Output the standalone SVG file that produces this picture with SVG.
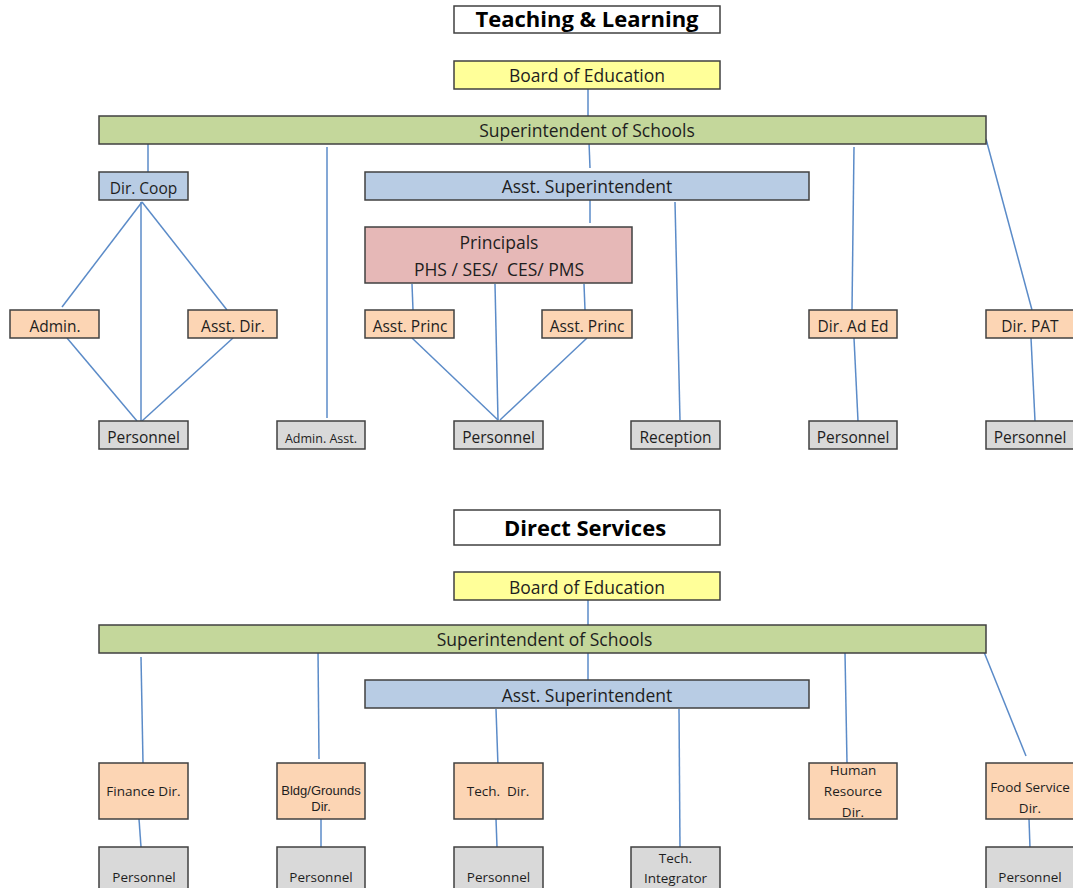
<svg xmlns="http://www.w3.org/2000/svg" width="1073" height="888" viewBox="0 0 1073 888">
<style>
text{font-family:"Open Sans","Noto Sans","Liberation Sans",sans-serif;fill:#1e1e1e;text-anchor:middle}
.b{stroke:#404040;stroke-width:1.5}
.t{fill:#fff}.y{fill:#ffff99}.g{fill:#c4d79b}.bl{fill:#b8cce4}.p{fill:#e6b8b7}.o{fill:#fcd5b4}.gr{fill:#d9d9d9}
.h{font-weight:bold;font-size:22px;fill:#000}
.l{font-size:17.5px}
.m{font-size:15.5px}
.s{font-size:13.5px}
.a{font-family:"Liberation Sans",Arial,sans-serif;font-size:13px}
.c line{stroke:#5b8bc8;stroke-width:1.5}
</style>
<rect width="1073" height="888" fill="#fff"/>
<g class="c" id="connectors">
<line x1="588" y1="89" x2="588" y2="116"/>
<line x1="148" y1="144" x2="148" y2="172"/>
<line x1="327" y1="147" x2="327" y2="418"/>
<line x1="589" y1="142" x2="590" y2="168"/>
<line x1="590" y1="200" x2="590" y2="223"/>
<line x1="854" y1="147" x2="852" y2="310"/>
<line x1="986" y1="139" x2="1032" y2="310"/>
<line x1="675" y1="202" x2="680" y2="420"/>
<line x1="142" y1="202" x2="62" y2="307"/>
<line x1="142" y1="202" x2="227" y2="310"/>
<line x1="141" y1="202" x2="141" y2="421"/>
<line x1="67" y1="338" x2="137" y2="421"/>
<line x1="233" y1="338" x2="142" y2="421"/>
<line x1="412" y1="284" x2="413" y2="310"/>
<line x1="584" y1="284" x2="585" y2="310"/>
<line x1="495" y1="284" x2="498" y2="420"/>
<line x1="412" y1="338" x2="498" y2="420"/>
<line x1="587" y1="338" x2="500" y2="420"/>
<line x1="854" y1="338" x2="858" y2="421"/>
<line x1="1031" y1="338" x2="1035" y2="421"/>
<line x1="588" y1="600" x2="588" y2="625"/>
<line x1="588" y1="653" x2="588" y2="680"/>
<line x1="141" y1="657" x2="143" y2="763"/>
<line x1="318" y1="650" x2="319" y2="759"/>
<line x1="496" y1="709" x2="498" y2="766"/>
<line x1="679" y1="709" x2="680" y2="849"/>
<line x1="845" y1="653" x2="847" y2="763"/>
<line x1="984" y1="652" x2="1026" y2="756"/>
<line x1="139" y1="819" x2="141" y2="847"/>
<line x1="321" y1="819" x2="321" y2="849"/>
<line x1="496" y1="819" x2="497" y2="847"/>
<line x1="1029" y1="819" x2="1030" y2="848"/>
</g>
<g id="title-tl"><rect class="b t" x="454" y="6" width="266" height="27"/><text class="h" x="587" y="27">Teaching &amp; Learning</text></g>
<g id="board-tl"><rect class="b y" x="454" y="61" width="266" height="28"/><text class="l" x="587" y="82">Board of Education</text></g>
<g id="sup-tl"><rect class="b g" x="99" y="116" width="887" height="28"/><text class="l" x="587" y="137">Superintendent of Schools</text></g>
<g id="dircoop"><rect class="b bl" x="99" y="172" width="89" height="28"/><text class="m" x="143.5" y="194">Dir. Coop</text></g>
<g id="asstsup-tl"><rect class="b bl" x="365" y="172" width="444" height="28"/><text class="l" x="587" y="193">Asst. Superintendent</text></g>
<g id="principals"><rect class="b p" x="365" y="227" width="267" height="56"/><text class="l" x="499" y="249">Principals</text><text class="l" x="499" y="276" style="white-space:pre">PHS / SES/  CES/ PMS</text></g>
<g id="admin"><rect class="b o" x="10" y="310" width="89" height="28"/><text class="m" x="55" y="332">Admin.</text></g>
<g id="asstdir"><rect class="b o" x="188" y="310" width="89" height="28"/><text class="m" x="233" y="332">Asst. Dir.</text></g>
<g id="asstprinc1"><rect class="b o" x="365" y="310" width="89" height="28"/><text class="m" x="410" y="332">Asst. Princ</text></g>
<g id="asstprinc2"><rect class="b o" x="542" y="310" width="90" height="28"/><text class="m" x="587" y="332">Asst. Princ</text></g>
<g id="diraded"><rect class="b o" x="809" y="310" width="88" height="28"/><text class="m" x="853" y="332">Dir. Ad Ed</text></g>
<g id="dirpat"><rect class="b o" x="986" y="310" width="89" height="28"/><text class="m" x="1030" y="332">Dir. PAT</text></g>
<g id="pers-coop"><rect class="b gr" x="99" y="421" width="89" height="28"/><text class="m" x="143.5" y="443">Personnel</text></g>
<g id="adminasst"><rect class="b gr" x="277" y="421" width="88" height="28"/><text class="s" x="321" y="443" style="font-size:12.5px">Admin. Asst.</text></g>
<g id="pers-princ"><rect class="b gr" x="454" y="421" width="89" height="28"/><text class="m" x="498.5" y="443">Personnel</text></g>
<g id="reception"><rect class="b gr" x="631" y="421" width="89" height="28"/><text class="m" x="675.5" y="443">Reception</text></g>
<g id="pers-aded"><rect class="b gr" x="809" y="421" width="88" height="28"/><text class="m" x="853" y="443">Personnel</text></g>
<g id="pers-pat"><rect class="b gr" x="986" y="421" width="89" height="28"/><text class="m" x="1030" y="443">Personnel</text></g>
<g id="title-ds"><rect class="b t" x="454" y="510" width="266" height="35"/><text class="h" x="585" y="536">Direct Services</text></g>
<g id="board-ds"><rect class="b y" x="454" y="572" width="266" height="28"/><text class="l" x="587" y="594">Board of Education</text></g>
<g id="sup-ds"><rect class="b g" x="99" y="625" width="887" height="28"/><text class="l" x="544.5" y="646">Superintendent of Schools</text></g>
<g id="asstsup-ds"><rect class="b bl" x="365" y="680" width="444" height="28"/><text class="l" x="587" y="702">Asst. Superintendent</text></g>
<g id="finance"><rect class="b o" x="99" y="763" width="89" height="56"/><text class="s" x="143.5" y="796">Finance Dir.</text></g>
<g id="bldg"><rect class="b o" x="277" y="763" width="88" height="56"/><text class="a" x="321" y="795">Bldg/Grounds</text><text class="a" x="321" y="811">Dir.</text></g>
<g id="techdir"><rect class="b o" x="454" y="763" width="89" height="56"/><text class="s" x="498" y="796" style="white-space:pre">Tech.  Dir.</text></g>
<g id="hr"><rect class="b o" x="809" y="763" width="88" height="56"/><text class="s" x="853" y="775">Human</text><text class="s" x="853" y="796">Resource</text><text class="s" x="853" y="817">Dir.</text></g>
<g id="food"><rect class="b o" x="986" y="763" width="89" height="56"/><text class="s" x="1030" y="792">Food Service</text><text class="s" x="1030" y="813">Dir.</text></g>
<g id="pers-fin"><rect class="b gr" x="99" y="847" width="89" height="56"/><text class="s" x="144" y="882">Personnel</text></g>
<g id="pers-bldg"><rect class="b gr" x="277" y="847" width="88" height="56"/><text class="s" x="321" y="882">Personnel</text></g>
<g id="pers-tech"><rect class="b gr" x="454" y="847" width="89" height="56"/><text class="s" x="498.5" y="882">Personnel</text></g>
<g id="techint"><rect class="b gr" x="631" y="847" width="89" height="56"/><text class="s" x="675.5" y="863">Tech.</text><text class="s" x="675.5" y="883">Integrator</text></g>
<g id="pers-food"><rect class="b gr" x="986" y="847" width="89" height="56"/><text class="s" x="1030" y="882">Personnel</text></g>
</svg>
